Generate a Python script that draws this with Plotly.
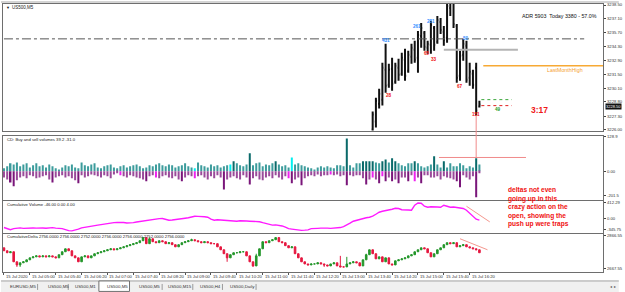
import plotly.graph_objects as go

# ---------------- data ----------------
n_bars = 148
bars = list(range(n_bars))

time_labels = ["15 Jul 2020", "15 Jul 05:00", "15 Jul 05:40", "15 Jul 06:20", "15 Jul 07:00",
               "15 Jul 07:40", "15 Jul 08:20", "15 Jul 09:00", "15 Jul 09:40", "15 Jul 10:20",
               "15 Jul 11:00", "15 Jul 11:40", "15 Jul 12:20", "15 Jul 13:00", "15 Jul 13:40",
               "15 Jul 14:20", "15 Jul 15:00", "15 Jul 15:40", "15 Jul 16:20"]
time_label_bars = [0, 8, 16, 24, 32, 40, 48, 56, 64, 72, 80, 88, 96, 104, 112, 120, 128, 136, 144]

# main price bars (visible part of the price window)
price_idx = list(range(114, 148))
price_high = [3227.8, 3229.2, 3230.1, 3232.7, 3234.6, 3232.6, 3233.2, 3232.7, 3233.1, 3233.7,
              3234.1, 3233.9, 3234.6, 3234.9, 3235.9, 3236.7, 3235.9, 3234.9, 3236.9, 3236.4,
              3237.4, 3237.2, 3236.4, 3239.5, 3239.5, 3239.2, 3236.6, 3233.9, 3235.1, 3234.9,
              3232.7, 3232.0, 3232.7, 3228.9]
price_low = [3225.5, 3226.2, 3228.1, 3228.4, 3229.7, 3230.2, 3229.9, 3230.6, 3230.9, 3231.4,
             3230.9, 3231.7, 3232.6, 3232.7, 3231.7, 3234.2, 3233.9, 3233.6, 3233.6, 3233.9,
             3234.6, 3235.6, 3234.4, 3234.7, 3237.4, 3236.2, 3230.7, 3230.9, 3232.9, 3230.7,
             3230.4, 3230.1, 3227.4, 3228.2]
price_open = [3226.0, 3226.8, 3228.6, 3229.0, 3232.0, 3230.5, 3232.1, 3230.8, 3232.2, 3231.6,
              3233.0, 3231.9, 3233.3, 3234.0, 3233.2, 3235.4, 3235.7, 3234.2, 3234.5, 3236.2,
              3234.8, 3236.8, 3235.8, 3235.2, 3238.2, 3238.8, 3236.4, 3231.4, 3233.5, 3234.4,
              3231.2, 3231.6, 3232.2, 3228.3]
price_close = [3227.5, 3228.9, 3229.6, 3232.2, 3230.4, 3232.0, 3230.6, 3232.4, 3231.5, 3233.2,
               3231.4, 3233.5, 3234.2, 3233.0, 3235.5, 3236.2, 3234.3, 3234.6, 3236.5, 3234.5,
               3237.0, 3236.0, 3235.0, 3238.4, 3238.9, 3236.6, 3231.2, 3233.4, 3234.6, 3231.0,
               3231.8, 3230.5, 3227.9, 3228.5]
price_ticks = [3238.50, 3237.10, 3235.70, 3234.30, 3232.90, 3231.50, 3230.10, 3228.80, 3227.30, 3226.00]

# swing labels on the price bars
swing_bar = [118, 119, 127.7, 132, 130.8, 132.9, 143, 141, 145.8]
swing_price = [3234.9, 3229.4, 3236.3, 3236.8, 3233.6, 3233.0, 3235.1, 3230.3, 3227.5]
swing_text = ["431", "28", "261", "281", "65", "33", "50", "67", "151"]
swing_kind = ["hi", "lo", "hi", "hi", "lo", "lo", "hi", "lo", "lo"]

# levels
pivot_level = 3235.1
grey_level = 3234.0
last_month_high = 3232.4
green_level = 3229.0
red_level = 3228.4
bid_price_box = 3228.3

# buy / sell volumes
vol_buy = [11, 18, 29, 25, 32, 18, 25, 29, 14, 22,
           29, 18, 22, 14, 25, 18, 11, 7, 14, 22,
           18, 25, 14, 11, 32, 22, 18, 25, 29, 14,
           11, 18, 22, 25, 14, 11, 18, 22, 14, 18,
           22, 25, 18, 11, 14, 22, 18, 25, 29, 22,
           18, 25, 22, 14, 18, 22, 29, 18, 14, 11,
           32, 22, 18, 14, 25, 18, 22, 14, 18, 22,
           25, 36, 29, 22, 18, 25, 65, 22, 29, 32,
           18, 25, 22, 29, 36, 25, 18, 22, 14, 50,
           25, 29, 22, 18, 14, 11, 7, 14, 18, 14,
           18, 14, 11, 22, 22, 18, 118, 22, 14, 29,
           29, 36, 36, 36, 36, 32, 29, 36, 43, 32,
           47, 36, 29, 22, 18, 29, 29, 36, 29, 18,
           14, 18, 25, 54, 25, 14, 36, 14, 29, 18,
           18, 29, 22, 11, 18, 14, 47, 25]
vol_sell = [22, 29, 40, 54, 32, 22, 18, 25, 14, 18,
            25, 22, 18, 14, 29, 40, 22, 18, 14, 22,
            18, 25, 32, 43, 14, 22, 18, 11, 14, 18,
            22, 14, 18, 25, 11, 7, 14, 18, 22, 14,
            18, 22, 25, 29, 36, 18, 14, 22, 25, 18,
            14, 22, 25, 18, 29, 36, 22, 14, 18, 25,
            18, 14, 22, 29, 18, 25, 14, 22, 65, 29,
            22, 18, 25, 29, 14, 22, 47, 25, 18, 29,
            32, 22, 18, 25, 14, 22, 29, 18, 25, 43,
            29, 22, 50, 25, 18, 14, 18, 11, 18, 14,
            14, 11, 14, 11, 18, 14, 50, 14, 18, 14,
            14, 25, 47, 29, 22, 29, 43, 18, 36, 22,
            36, 29, 43, 22, 22, 36, 14, 36, 22, 43,
            14, 14, 22, 22, 18, 29, 18, 22, 25, 29,
            36, 57, 14, 22, 29, 18, 93, 7]
cyan_buy_bars = [59, 70, 89]
magenta_sell_bars = [36, 47, 59, 88, 101, 114, 117, 127]
vol_marker_level = 50

# cumulative volume
cum_volume = [-211, -239, -263, -239, -227, -220, -232, -227, -215, -222,
              -227, -218, -225, -230, -222, -215, -227, -232, -239, -263,
              -287, -291, -275, -251, -220, -204, -192, -180, -168, -156,
              -144, -128, -116, -104, -97, -90, -85, -92, -104, -109,
              -97, -80, -68, -52, -38, -26, -14, -7, 0, 2,
              -14, -38, -33, -26, -9, 5, 9, 21, 45, 57,
              52, 57, 45, 33, -14, -38, -26, -33, -38, -50,
              -62, -55, -62, -50, -62, -57, -62, -69, -62, -74,
              -97, -121, -144, -156, -150, -161, -175, -204, -240, -251,
              -263, -275, -280, -275, -268, -239, -227, -232, -227, -222,
              -227, -232, -227, -220, -213, -192, -156, -109, -62, -38,
              -14, 9, 21, 33, 57, 104, 152, 175, 187, 199,
              222, 246, 240, 210, 199, 204, 199, 318, 372, 365,
              294, 270, 282, 270, 275, 270, 318, 294, 270, 275,
              258, 246, 240, 199, 128, 40, -14, -38]
cv_trend_bars = [143.0, 150.2]
cv_trend_vals = [294, -78]

# cumulative delta candles (open = previous close)
cd_first_open = 2793
cd_close = [2775, 2763, 2769, 2708, 2689, 2702, 2708, 2720, 2732, 2738,
            2744, 2738, 2744, 2738, 2744, 2738, 2732, 2751, 2769, 2787,
            2775, 2744, 2732, 2708, 2738, 2744, 2732, 2744, 2757, 2763,
            2769, 2775, 2781, 2787, 2781, 2787, 2793, 2799, 2806, 2812,
            2818, 2824, 2836, 2855, 2818, 2848, 2830, 2824, 2836, 2830,
            2818, 2824, 2812, 2799, 2812, 2824, 2830, 2836, 2842, 2836,
            2830, 2824, 2830, 2824, 2818, 2818, 2799, 2781, 2757, 2732,
            2751, 2763, 2763, 2769, 2769, 2744, 2708, 2683, 2744, 2787,
            2830, 2824, 2836, 2842, 2855, 2830, 2824, 2806, 2793, 2799,
            2757, 2732, 2708, 2695, 2689, 2695, 2695, 2702, 2695, 2689,
            2683, 2695, 2702, 2683, 2677, 2677, 2695, 2702, 2708, 2702,
            2683, 2720, 2751, 2781, 2757, 2726, 2738, 2708, 2732, 2695,
            2689, 2714, 2720, 2726, 2732, 2744, 2751, 2769, 2781, 2793,
            2787, 2763, 2738, 2757, 2781, 2793, 2812, 2824, 2818, 2824,
            2799, 2806, 2812, 2799, 2793, 2787, 2781, 2763]
cd_high_override = {45: 2855, 58: 2848, 78: 2757, 104: 2744, 106: 2738, 112: 2757}
cd_low_override = {4: 2677, 5: 2677, 69: 2708, 77: 2677, 99: 2677}
cd_trend_bars = [141.0, 149.5]
cd_trend_vals = [2848, 2781]

tabs = ["EURUSD,M5", "US500,M5", "US500,M1", "US500,M5", "US500,M5", "US500,M15", "US500,H4", "US500,Daily"]
tab_px = [7, 45, 73, 105, 138, 167, 199, 230]
tab_sep_px = [37, 68, 163, 194, 224, 258]

# ---------------- geometry helpers (layout only) ----------------
W, H = 625, 292
ML, MR, MT, MB = 2, 16, 3, 20
PW = W - ML - MR
PH = H - MT - MB


def px_x(px):
    return (px - ML) / PW


def px_y(py):
    return (H - MB - py) / PH


X_RANGE = [-0.3, -0.3 + PW / 3.272]
dom_main = [px_y(130), px_y(3)]
dom_vol = [px_y(200), px_y(135)]
dom_cv = [px_y(233), px_y(200.5)]
dom_cd = [0, px_y(233.5)]
rng_main = [3225.9, 3238.6]
rng_vol = [-104, 129]
rng_cv = [-346, 424]
rng_cd = [2646, 2879]


def data_to_paper(v, rng, dom):
    return dom[0] + (v - rng[0]) / (rng[1] - rng[0]) * (dom[1] - dom[0])


FONT = "Liberation Sans, Arial, sans-serif"
FRAME = "#6e6e6e"

fig = go.Figure()

# main OHLC
fig.add_trace(go.Ohlc(
    x=price_idx, open=price_open, high=price_high, low=price_low, close=price_close,
    increasing=dict(line=dict(color="#111111", width=2)),
    decreasing=dict(line=dict(color="#111111", width=2)),
    tickwidth=0.35, xaxis="x", yaxis="y", hoverinfo="skip"))

# volumes
buy_colors = []
for i, v in enumerate(vol_buy):
    if i in cyan_buy_bars:
        buy_colors.append("#00f0f0")
    elif v >= 36:
        buy_colors.append("#0a6a6a")
    else:
        buy_colors.append("#3c9c9c")
sell_colors = []
for i, v in enumerate(vol_sell):
    if i in magenta_sell_bars:
        sell_colors.append("#ee22ee")
    elif v >= 36:
        sell_colors.append("#7a167a")
    else:
        sell_colors.append("#9a4a9a")
fig.add_trace(go.Bar(x=bars, y=vol_buy, marker=dict(color=buy_colors, line=dict(width=0)),
                     width=0.62, xaxis="x2", yaxis="y2", hoverinfo="skip"))
fig.add_trace(go.Bar(x=bars, y=[-v for v in vol_sell], marker=dict(color=sell_colors, line=dict(width=0)),
                     width=0.62, xaxis="x2", yaxis="y2", hoverinfo="skip"))

# cumulative volume
fig.add_trace(go.Scatter(x=bars, y=cum_volume, mode="lines", line=dict(color="#ff1aff", width=1.4),
                         xaxis="x3", yaxis="y3", hoverinfo="skip"))
fig.add_trace(go.Scatter(x=cv_trend_bars, y=cv_trend_vals, mode="lines", line=dict(color="#f4978e", width=1),
                         xaxis="x3", yaxis="y3", hoverinfo="skip"))

# cumulative delta candles
cd_open = [cd_first_open] + cd_close[:-1]
cd_high = [cd_high_override.get(i, max(o, c)) for i, (o, c) in enumerate(zip(cd_open, cd_close))]
cd_low = [cd_low_override.get(i, min(o, c)) for i, (o, c) in enumerate(zip(cd_open, cd_close))]
fig.add_trace(go.Candlestick(
    x=bars, open=cd_open, high=cd_high, low=cd_low, close=cd_close,
    increasing=dict(line=dict(color="#23962a", width=1), fillcolor="#23962a"),
    decreasing=dict(line=dict(color="#e5173f", width=1), fillcolor="#e5173f"),
    whiskerwidth=0, xaxis="x4", yaxis="y4", hoverinfo="skip"))
fig.add_trace(go.Scatter(x=cd_trend_bars, y=cd_trend_vals, mode="lines", line=dict(color="#f4978e", width=1),
                         xaxis="x4", yaxis="y4", hoverinfo="skip"))

shapes = []
# levels on main chart
shapes.append(dict(type="line", xref="x", yref="y", x0=0, x1=179.4, y0=pivot_level, y1=pivot_level,
                   line=dict(color="#555555", width=1, dash="dashdot")))
shapes.append(dict(type="line", xref="x", yref="y", x0=136, x1=158.9, y0=grey_level, y1=grey_level,
                   line=dict(color="#b4b4b4", width=2)))
shapes.append(dict(type="line", xref="x", yref="y", x0=148.2, x1=X_RANGE[1], y0=last_month_high, y1=last_month_high,
                   line=dict(color="#f7a934", width=1.5)))
shapes.append(dict(type="line", xref="x", yref="y", x0=147.6, x1=157, y0=green_level, y1=green_level,
                   line=dict(color="#3aa63a", width=1, dash="dot")))
shapes.append(dict(type="line", xref="x", yref="y", x0=147.6, x1=157, y0=red_level, y1=red_level,
                   line=dict(color="#e02020", width=1, dash="dot")))
# salmon line from last bar down into volume pane
y_top = data_to_paper(3227.4, rng_main, dom_main)
y_bot = data_to_paper(vol_marker_level, rng_vol, dom_vol)
shapes.append(dict(type="line", xref="x", yref="paper", x0=146, x1=146, y0=y_bot, y1=y_top,
                   line=dict(color="#f08a8a", width=1)))
shapes.append(dict(type="line", xref="x2", yref="y2", x0=134.5, x1=161.4, y0=vol_marker_level, y1=vol_marker_level,
                   line=dict(color="#f08a8a", width=1)))

# window chrome: top strip, tab bar
shapes.append(dict(type="rect", xref="paper", yref="paper", x0=px_x(0), x1=px_x(W), y0=px_y(2), y1=px_y(0),
                   fillcolor="#d4d4d4", line=dict(width=0), layer="below"))
shapes.append(dict(type="rect", xref="paper", yref="paper", x0=px_x(0), x1=px_x(W), y0=px_y(292), y1=px_y(281),
                   fillcolor="#f0f0f0", line=dict(width=0), layer="below"))
shapes.append(dict(type="line", xref="paper", yref="paper", x0=px_x(0), x1=px_x(W), y0=px_y(281), y1=px_y(281),
                   line=dict(color="#a0a0a0", width=1)))
shapes.append(dict(type="rect", xref="paper", yref="paper", x0=px_x(99), x1=px_x(130), y0=px_y(291.5), y1=px_y(281),
                   fillcolor="#ffffff", line=dict(color="#707070", width=1)))
for sp in tab_sep_px:
    shapes.append(dict(type="line", xref="paper", yref="paper", x0=px_x(sp), x1=px_x(sp), y0=px_y(290), y1=px_y(284),
                       line=dict(color="#9a9a9a", width=1)))

annotations = []


def ann(text, x, y, xref="paper", yref="paper", size=4.5, color="#222222", xanchor="left",
        yanchor="middle", bold=False, **kw):
    if bold:
        text = "<b>" + text + "</b>"
    annotations.append(dict(text=text, x=x, y=y, xref=xref, yref=yref, showarrow=False,
                            xanchor=xanchor, yanchor=yanchor,
                            font=dict(family=FONT, size=size, color=color), **kw))


# swing labels
for b, p, t, k in zip(swing_bar, swing_price, swing_text, swing_kind):
    ann(t, b, p, xref="x", yref="y", size=4.6, color="#2f8cff" if k == "hi" else "#f01010",
        xanchor="center", bold=True)

ann("LastMonthHigh", 167.2, 3232.0, xref="x", yref="y", size=5.3, color="#f5a030")
ann("49", 151.3, 3228.05, xref="x", yref="y", size=4.6, color="#1f9a1f", bold=True)
ann("3:17", 162.3, 3228.0, xref="x", yref="y", size=8.5, color="#f01818", bold=True)
ann("ADR 5903  Today 3380 - 57.0%", px_x(605), px_y(15.5), size=5.3, color="#111111", xanchor="right")
ann("▼", px_x(3.5), px_y(7), size=4, color="#111111")
ann("US500,M5", px_x(9), px_y(7), size=4.5)
ann("CD: Buy and sell volumes 39.2 -31.0", px_x(4), px_y(139.3), size=4.2)
ann("Cumulative Volume -46.00 0.00 4.00", px_x(4), px_y(204), size=4.2)
ann("CumulativeDelta 2756.0000 2756.0000 2752.0000 2756.0000 2756.0000 2752.0000 2756.0000",
    px_x(4), px_y(236.7), size=4.2)
ann("deltas not even<br>going up in this<br>crazy action on the<br>open, showing the<br>push up were traps",
    px_x(511), px_y(184), size=6.6, color="#f01010", yanchor="top", bold=True, align="left")
# current price box
ann("%.2f" % price_close[-1], px_x(611), bid_price_box, yref="y", size=4.0, color="#ffffff",
    bgcolor="#111111", borderpad=0)

# time labels
for b, t in zip(time_label_bars, time_labels):
    ann(t, b, px_y(276.5), xref="x4", size=4.2, color="#333333")

# tabs
for t, x in zip(tabs, tab_px):
    ann(t, px_x(x), px_y(287), size=4.4, color="#333333")
ann("◂  ▸", px_x(614), px_y(287), size=4, color="#555555")

ax_common = dict(range=X_RANGE, showgrid=False, zeroline=False, showline=True, mirror=True,
                 linecolor=FRAME, linewidth=1.3, showticklabels=False, ticks="", fixedrange=True)
y_common = dict(showgrid=False, zeroline=False, showline=True, mirror=True, linecolor=FRAME, linewidth=1.3,
                side="right", ticks="outside", ticklen=2, tickcolor="#444444",
                tickfont=dict(family=FONT, size=4.2, color="#333333"), fixedrange=True)

fig.update_layout(
    width=W, height=H, margin=dict(l=ML, r=MR, t=MT, b=MB),
    paper_bgcolor="#ffffff", plot_bgcolor="#ffffff", showlegend=False, barmode="overlay",
    xaxis=dict(**ax_common, domain=[0, 1], anchor="y", rangeslider=dict(visible=False)),
    xaxis2=dict(**ax_common, domain=[0, 1], anchor="y2", matches="x"),
    xaxis3=dict(**ax_common, domain=[0, 1], anchor="y3", matches="x"),
    xaxis4=dict(range=X_RANGE, showgrid=False, zeroline=False, showline=True, mirror=True,
                linecolor=FRAME, linewidth=1.3, showticklabels=False, ticks="outside", ticklen=2,
                tickcolor="#555555", tickvals=time_label_bars, domain=[0, 1], anchor="y4",
                matches="x", rangeslider=dict(visible=False), fixedrange=True),
    yaxis=dict(**y_common, domain=dom_main, range=rng_main, anchor="x",
               tickvals=price_ticks, tickformat=".2f"),
    yaxis2=dict(**y_common, domain=dom_vol, range=rng_vol, anchor="x2",
                tickvals=[125, 0, -88], ticktext=["128.9", "0.00", "-201.5"]),
    yaxis3=dict(**y_common, domain=dom_cv, range=rng_cv, anchor="x3",
                tickvals=[375, 0, -270], ticktext=["412.29", "0.00", "-345.75"]),
    yaxis4=dict(**y_common, domain=dom_cd, range=rng_cd, anchor="x4",
                tickvals=[2866.55, 2667.55], tickformat=".2f"),
    shapes=shapes, annotations=annotations,
)

fig.write_html("out.html")
